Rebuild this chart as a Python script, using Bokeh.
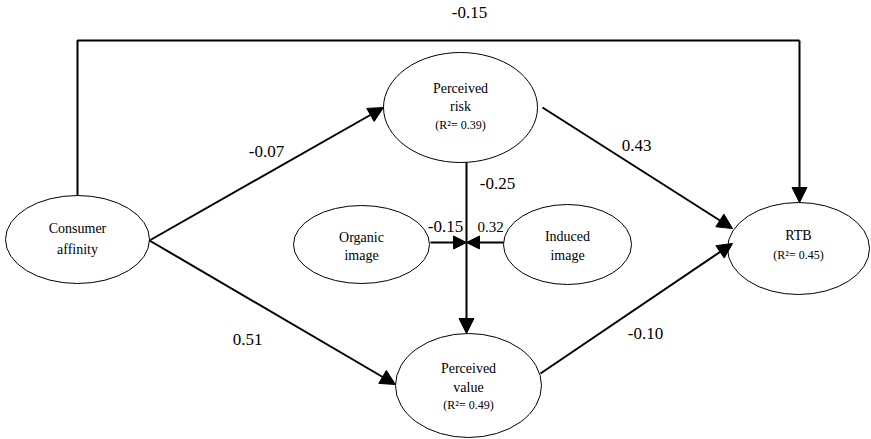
from bokeh.plotting import figure
from bokeh.models import Range1d, Arrow, NormalHead
from bokeh.core.properties import value
from bokeh.embed import file_html
from bokeh.resources import INLINE

# ---- data ----
node_ids = ["CA", "PR", "OI", "II", "PV", "RTB"]
node_names = [["Consumer", "affinity"], ["Perceived", "risk"], ["Organic", "image"],
              ["Induced", "image"], ["Perceived", "value"], ["RTB"]]
node_r2 = [None, 0.39, None, None, 0.49, 0.45]

path_from = ["CA", "CA", "CA", "PR", "PR", "OI", "II", "PV"]
path_to = ["RTB", "PR", "PV", "PV", "RTB", "J", "J", "RTB"]
path_coef = [-0.15, -0.07, 0.51, -0.25, 0.43, -0.15, 0.32, -0.10]

# ---- layout (pixel coordinates) ----
ell = {"CA": (77, 239, 72, 44), "PR": (460, 107, 77, 55), "OI": (361, 244, 68, 39),
       "II": (567, 244, 64, 40), "PV": (468, 385, 73, 52), "RTB": (798, 248, 71, 46)}
text_y = {"CA": [228, 249], "PR": [88, 106, 124], "OI": [237, 255], "II": [236, 255],
          "PV": [368, 387, 404], "RTB": [235, 254]}
edge_pts = [
    [(77, 195), (77, 40), (799, 40), (799, 202)],
    [(149, 240), (383, 107)],
    [(149, 240), (395, 384)],
    [(466, 162), (466, 333)],
    [(542, 107), (732, 228)],
    [(430, 242), (466, 242)],
    [(503, 242), (466, 242)],
    [(540, 373), (732, 243)],
]
label_pos = [(469, 12), (266, 151), (247, 339), (497, 183), (636, 145), (445, 226), (490, 226), (645, 333)]
label_size = ["17px", "17px", "17px", "17px", "17px", "17px", "15px", "17px"]
head_size = [15, 15, 15, 15, 15, 13, 13, 15]

p = figure(width=871, height=439, output_backend="svg", toolbar_location=None,
           x_range=Range1d(0, 871), y_range=Range1d(439, 0), min_border=0)
p.axis.visible = False
p.grid.visible = False
p.outline_line_color = None
p.background_fill_color = "white"
p.border_fill_color = "white"

FONT = value("'Liberation Serif', 'DejaVu Serif', serif")

# edges
for pts, hs in zip(edge_pts, head_size):
    if len(pts) > 2:
        xs = [q[0] for q in pts[:-1]]
        ys = [q[1] for q in pts[:-1]]
        p.line(xs, ys, line_color="black", line_width=2)
    (x0, y0), (x1, y1) = pts[-2], pts[-1]
    p.add_layout(Arrow(x_start=x0, y_start=y0, x_end=x1, y_end=y1, line_width=2,
                       line_color="black",
                       end=NormalHead(size=hs, fill_color="black", line_color="black", line_width=1)))

# nodes
for nid in node_ids:
    cx, cy, rx, ry = ell[nid]
    p.ellipse(x=[cx], y=[cy], width=[2 * rx], height=[2 * ry], fill_color="white",
              line_color="black", line_width=1)

for nid, names, r2 in zip(node_ids, node_names, node_r2):
    cx = ell[nid][0]
    ys = text_y[nid]
    for i, nm in enumerate(names):
        p.text(x=[cx], y=[ys[i]], text=[nm], text_font=FONT, text_font_size="14px",
               text_align="center", text_baseline="middle", text_color="black")
    if r2 is not None:
        p.text(x=[cx], y=[ys[len(names)]], text=["(R\u00b2= %.2f)" % r2], text_font=FONT,
               text_font_size="12px", text_align="center", text_baseline="middle",
               text_color="black")

# coefficients
for c, (lx, ly), fs in zip(path_coef, label_pos, label_size):
    p.text(x=[lx], y=[ly], text=["%.2f" % c], text_font=FONT, text_font_size=fs,
           text_align="center", text_baseline="middle", text_color="black")

open("out.html", "w").write(file_html(p, INLINE))
